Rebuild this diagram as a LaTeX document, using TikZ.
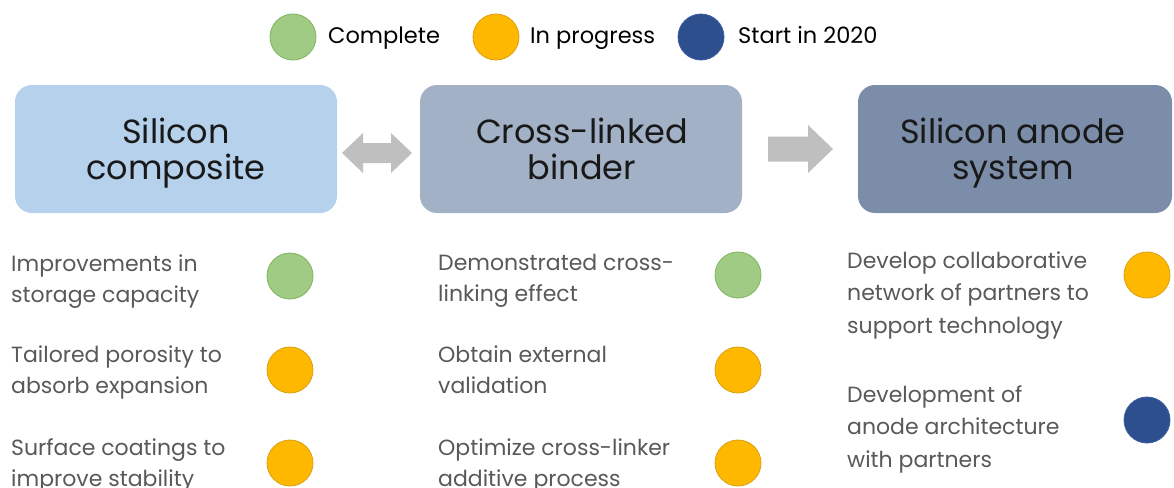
\documentclass[tikz,border=0pt]{standalone}
\usepackage{fontspec}
\setmainfont{Poppins}
\usetikzlibrary{calc}
\definecolor{cgreen}{HTML}{A0CB84}
\definecolor{cgreenb}{HTML}{7FB55E}
\definecolor{corange}{HTML}{FFB800}
\definecolor{coranged}{HTML}{D9A010}
\definecolor{cblue}{HTML}{2E4F8E}
\definecolor{cblueb}{HTML}{3A5CA0}
\definecolor{boxa}{HTML}{B5D1EC}
\definecolor{boxb}{HTML}{A3B1C7}
\definecolor{boxc}{HTML}{7B8DA9}
\definecolor{arrowgray}{HTML}{BFBFBF}
\definecolor{txtgray}{HTML}{595959}
\newcommand{\Lft}[2]{\vtop{\baselineskip=#1\lineskiplimit=-1000pt\halign{##\hfil\cr#2\crcr}}}
\newcommand{\Ctr}[2]{\vtop{\baselineskip=#1\lineskiplimit=-1000pt\halign{\hfil##\hfil\cr#2\crcr}}}
\tikzset{
  stage/.style={rounded corners=17pt, minimum height=128pt, inner sep=0pt, draw=none},
  title/.style={anchor=base, inner sep=0pt, text=black!90, font=\fontsize{33.5}{36}\selectfont},
  item/.style={anchor=base west, inner sep=0pt, text=txtgray, font=\fontsize{22}{31}\selectfont},
  legtext/.style={anchor=base west, inner sep=0pt, text=black, font=\fontsize{22.5}{31}\selectfont},
  dot/.style={circle, minimum size=46pt, inner sep=0pt, line width=0.8pt},
  done/.style={dot, fill=cgreen, draw=cgreenb},
  prog/.style={dot, fill=corange, draw=coranged},
  start/.style={dot, fill=cblue, draw=cblueb},
  blockarrow/.style={fill=arrowgray, draw=none}
}
\begin{document}
\begin{tikzpicture}[x=1pt,y=-1pt]
\clip (0,0) rectangle (1174,487);
\fill[white] (0,0) rectangle (1174,487);
% legend
\node[done] (lg1) at (293,37) {};
\node[legtext] (lt1) at (328,44) {Complete};
\node[prog] (lg2) at (496,37) {};
\node[legtext] (lt2) at (530,44) {In progress};
\node[start] (lg3) at (701,37) {};
\node[legtext] (lt3) at (738,44) {Start in 2020};
% stage boxes
\node[stage, fill=boxa, minimum width=322pt] (b1) at (176,149) {};
\node[stage, fill=boxb, minimum width=322pt] (b2) at (581,149) {};
\node[stage, fill=boxc, minimum width=314pt] (b3) at (1015,149) {};
\node[title] (t1) at (176,143) {\Ctr{36pt}{Silicon\cr composite}};
\node[title] (t2) at (582,143) {\Ctr{36pt}{Cross-linked\cr binder}};
\node[title] (t3) at (1013,143) {\Ctr{36pt}{Silicon anode\cr system}};
% block arrows
\coordinate (a1) at (377,153);
\coordinate (a2) at (768,149);
\fill[blockarrow, shift={(a1)}] (-35,0) -- (-14,-20) -- (-14,-10) -- (14,-10) -- (14,-20) -- (35,0) -- (14,20) -- (14,10) -- (-14,10) -- (-14,20) -- cycle;
\fill[blockarrow, shift={(a2)}] (0,-12.5) -- (40,-12.5) -- (40,-24) -- (65,0) -- (40,24) -- (40,12.5) -- (0,12.5) -- cycle;
% left column
\node[item] (i11) at (11,271) {\Lft{31pt}{Improvements in\cr storage capacity}};
\node[item] (i12) at (11,362) {\Lft{31pt}{Tailored porosity to\cr absorb expansion}};
\node[item] (i13) at (11,455) {\Lft{31pt}{Surface coatings to\cr improve stability}};
\node[done] (s11) at (290,276) {};
\node[prog] (s12) at (290,370) {};
\node[prog] (s13) at (290,463) {};
% middle column
\node[item] (i21) at (438,270) {\Lft{31pt}{Demonstrated cross-\cr linking effect}};
\node[item] (i22) at (438,362) {\Lft{31pt}{Obtain external\cr validation}};
\node[item] (i23) at (438,455) {\Lft{31pt}{Optimize cross-linker\cr additive process}};
\node[done] (s21) at (738,275) {};
\node[prog] (s22) at (738,370) {};
\node[prog] (s23) at (738,463) {};
% right column
\node[item] (i31) at (847,268) {\Lft{32.5pt}{Develop collaborative\cr network of partners to\cr support technology}};
\node[item] (i32) at (847,402) {\Lft{32.5pt}{Development of\cr anode architecture\cr with partners}};
\node[prog] (s31) at (1147,275) {};
\node[start] (s32) at (1147,420) {};
\end{tikzpicture}
\end{document}
